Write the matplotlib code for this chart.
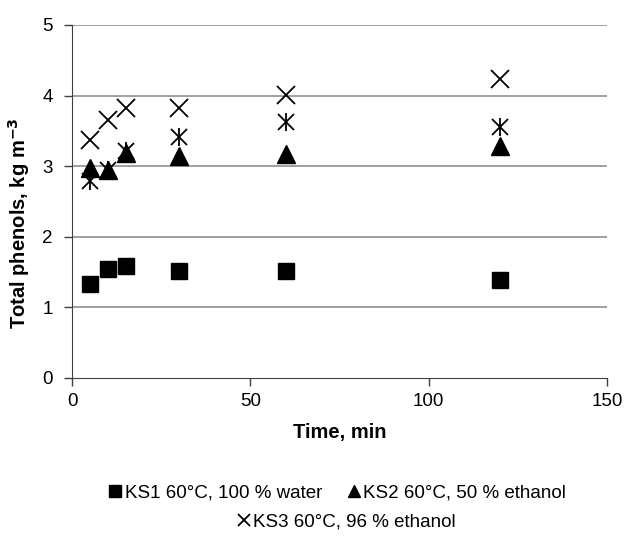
import matplotlib
matplotlib.use("Agg")
from matplotlib import pyplot as plt

plt.rcParams['font.family'] = ['Liberation Sans', 'DejaVu Sans']

time_ks1 = [5, 10, 15, 30, 60, 120]
ks1 = [1.33, 1.55, 1.58, 1.52, 1.51, 1.39]

time_ks2 = [5, 10, 15, 30, 60, 120]
ks2 = [2.97, 2.95, 3.18, 3.15, 3.17, 3.28]

time_ks3 = [5, 10, 15, 30, 60, 120]
ks3 = [3.37, 3.65, 3.82, 3.82, 4.01, 4.23]

# extra series drawn as asterisks, not in the legend
time_ks4 = [5, 10, 15, 30, 60, 120]
ks4 = [2.79, 2.95, 3.22, 3.42, 3.63, 3.56]

fig = plt.figure(figsize=(6.27, 5.36), dpi=100)
ax = fig.add_axes([72 / 627, 1 - 378 / 536, 535 / 627, 353 / 536])

ax.plot(time_ks4, ks4, ls='none', marker='x', ms=11.5, mew=1.3, color='black', zorder=2)
ax.plot(time_ks4, ks4, ls='none', marker='|', ms=13, mew=1.3, color='black', zorder=2)
h1, = ax.plot(time_ks1, ks1, ls='none', marker='s', ms=12, color='black', zorder=3)
h2, = ax.plot(time_ks2, ks2, ls='none', marker='^', ms=13, color='black', zorder=3)
h3, = ax.plot(time_ks3, ks3, ls='none', marker='x', ms=12.5, mew=1.3, color='black', zorder=3)

ax.set_xlim(0, 150)
ax.set_ylim(0, 5)
ax.set_xticks([0, 50, 100, 150])
ax.set_yticks([0, 1, 2, 3, 4, 5])
for y in [1, 2, 3, 4, 5]:
    ax.axhline(y, color='#868686', lw=1.1, zorder=1)

for s in ['top', 'right']:
    ax.spines[s].set_visible(False)
ax.spines['left'].set_color('#404040')
ax.spines['bottom'].set_color('#404040')
ax.tick_params(direction='out', length=6, width=1, color='#404040', labelsize=13.5)
ax.tick_params(axis='x', pad=5)
ax.tick_params(axis='y', pad=8)

ax.set_xlabel('Time, min', fontsize=14.5, fontweight='bold', labelpad=9)
ax.set_ylabel('Total phenols, kg m$^{\\mathbf{-3}}$', fontsize=14.5, fontweight='bold')
ax.yaxis.set_label_coords(-0.075, 0.44)

leg_kw = dict(loc='center', frameon=False, fontsize=13.5, handlelength=0.6,
              handletextpad=0.2, markerscale=0.7)
fig.legend([h1, h2], ['KS1 60°C, 100 % water', 'KS2 60°C, 50 % ethanol'],
           bbox_to_anchor=(338 / 627, 1 - 493 / 536), ncol=2, columnspacing=1.4, **leg_kw)
fig.legend([h3], ['KS3 60°C, 96 % ethanol'],
           bbox_to_anchor=(347 / 627, 1 - 522 / 536), **leg_kw)

fig.savefig('out.png', dpi=100)
